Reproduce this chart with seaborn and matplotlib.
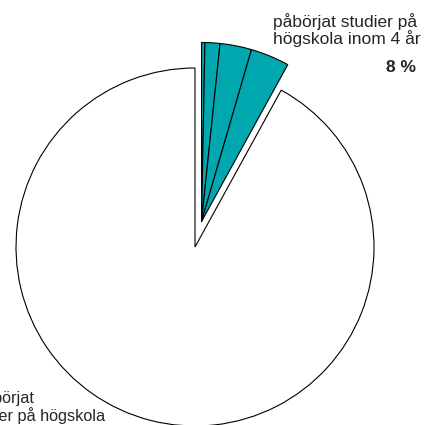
import matplotlib
matplotlib.use("Agg")
import matplotlib.pyplot as plt
import numpy as np
import seaborn as sns

# shares in percent; the 8 % group is drawn as four thin parts
studied_parts = [0.3, 1.35, 2.85, 3.5]
not_studied = 92.0
studied_label = "påbörjat studier på\nhögskola inom 4 år"
studied_pct = "8 %"
not_studied_lines = ["påbörjat", "studier på högskola"]

teal = "#00a7af"

sns.set_style("white")
plt.rcParams["font.family"] = ["Liberation Sans", "DejaVu Sans"]

fig = plt.figure(figsize=(4.24, 4.25), dpi=100)
ax = fig.add_axes([0, 0, 1, 1])

group = sum(studied_parts)
total = group + not_studied
wedge_kw = dict(edgecolor="black", linewidth=0.8)

# big white slice, the gap left for the teal group
wedges, _ = ax.pie([group, not_studied], colors=["white", "white"],
                   startangle=90, counterclock=False,
                   wedgeprops=wedge_kw, frame=True)
wedges[0].set_visible(False)

# teal group pulled out together along its middle angle
mid = np.deg2rad(90 - 360 * group / total / 2)
explode = 0.147
center = (explode * np.cos(mid), explode * np.sin(mid))
wedges, _ = ax.pie(studied_parts + [not_studied],
                   colors=[teal] * len(studied_parts) + ["white"],
                   startangle=90, counterclock=False, center=center,
                   wedgeprops=wedge_kw, frame=True)
wedges[-1].set_visible(False)

# pie centre sits at (195, 247) px, radius 179 px
ax.set_aspect("auto")
ax.set_xlim(-195 / 179, 229 / 179)
ax.set_ylim(-178 / 179, 247 / 179)
ax.axis("off")

fig.text(273 / 424, 1 - 13 / 425, studied_label, ha="left", va="top",
         fontsize=12.5, linespacing=1.0)
fig.text(416 / 424, 1 - 68 / 425, studied_pct, ha="right", va="center",
         fontsize=12.5, fontweight="bold")
fig.text(-24 / 424, 1 - 403 / 425, not_studied_lines[0], ha="left",
         va="baseline", fontsize=11.7)
fig.text(-36 / 424, 1 - 421 / 425, not_studied_lines[1], ha="left",
         va="baseline", fontsize=11.7)

fig.savefig("out.png", dpi=100)
